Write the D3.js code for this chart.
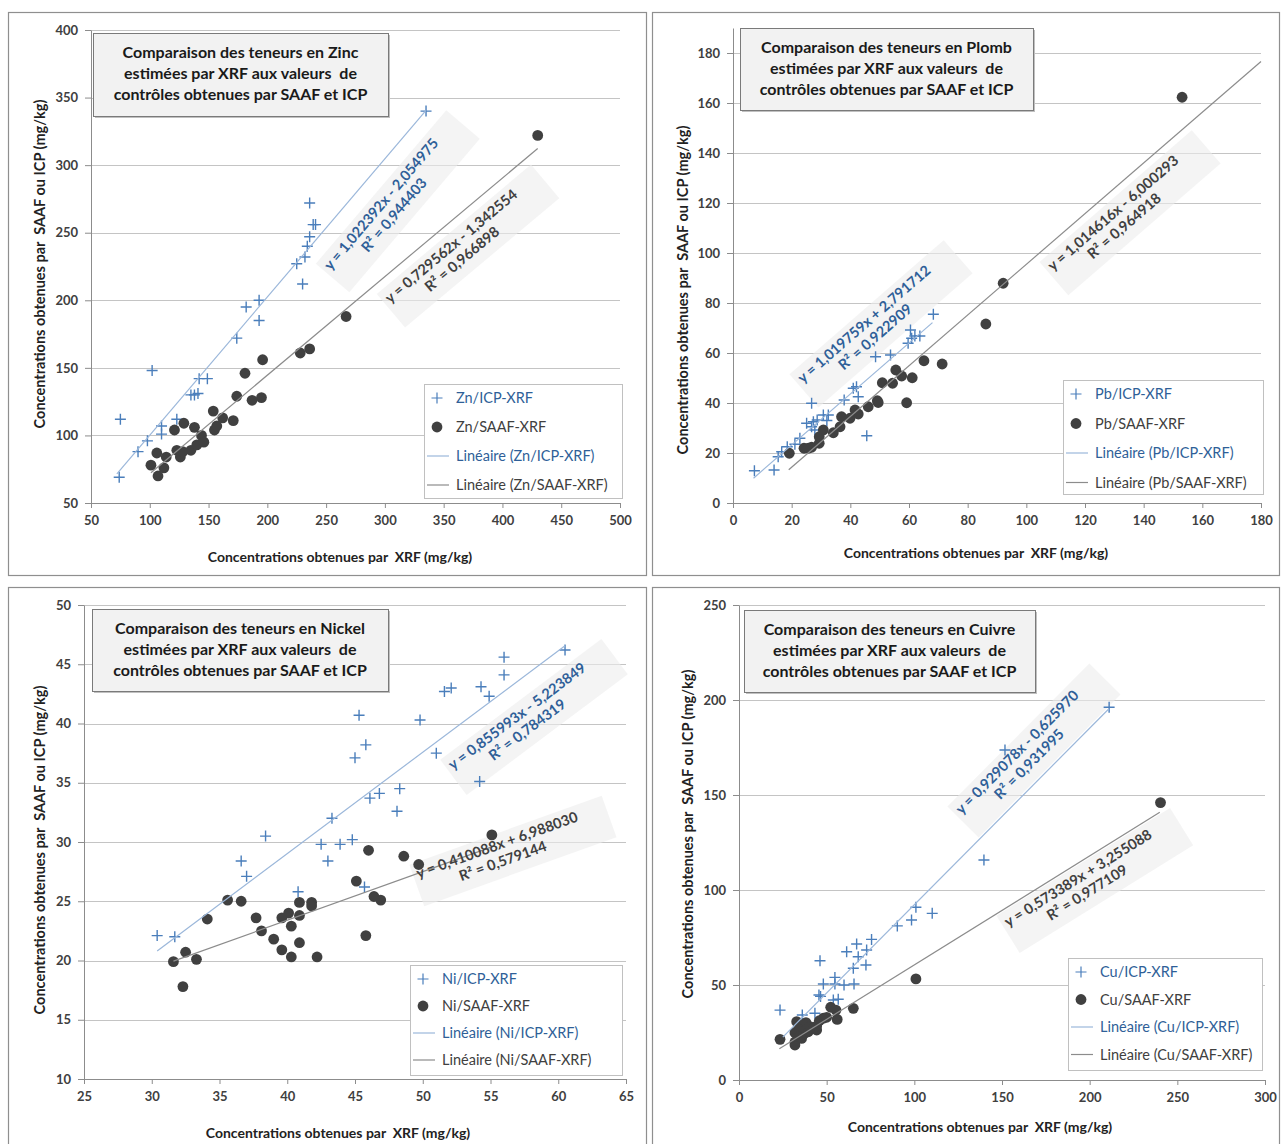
<!DOCTYPE html>
<html><head><meta charset="utf-8">
<script src="https://cdn.jsdelivr.net/npm/d3@7"></script>
<style>
body{margin:0;background:#fff}
text{font-family:Lato,"Open Sans",sans-serif;white-space:pre}
</style>
</head><body>
<svg id="c" width="1281" height="1144"></svg>
<script>
// ---------------- DATA ----------------
const znICP = [[74,69],[75,112],[90,88],[98,96],[102,148],[110,107],[110,101],[123,112],[135,130],[138,130],[141,131],[142,142],[149,142],[174,172],[182,195],[193,200],[193,185],[225,227],[230,212],[232,232],[234,240],[236,247],[236,272],[239,256],[241,256],[335,340]];
const znSAAF = [[101,78],[106,87],[107,70],[112,76],[114,84],[121,104],[123,89],[126,84],[128,88],[129,109],[135,89],[138,106],[140,93],[144,100],[146,95],[154,118],[155,104],[157,107],[162,113],[171,111],[174,129],[181,146],[187,126],[195,128],[196,156],[228,161],[236,164],[267,188],[430,322]];
const pbICP = [[7.3,12.9],[14,13.2],[15.4,18.5],[16.6,20.5],[18.5,22.5],[21.1,23.5],[22.8,25.9],[25.1,31.9],[26.8,39.9],[26.8,30.5],[27.4,32.5],[27.9,29.2],[28.7,33.2],[30.8,35.2],[32,33],[32.5,35.2],[37.9,41.2],[41,45.9],[42.1,46.5],[42.7,42.5],[45.6,26.9],[48.6,58.5],[53.7,59.2],[59.7,63.9],[60.5,69.2],[60.9,65.9],[62,66.8],[63.7,66.8],[68.3,75.5]];
const pbSAAF = [[19.2,19.9],[24.2,21.9],[25.7,21.9],[26.8,22.3],[29.4,23.9],[29.4,26.5],[30.8,29.2],[34.2,28.1],[36.5,30.5],[37,34.5],[39.9,33.9],[41.6,37.2],[42.7,35.6],[46.1,38.5],[49.2,40.9],[49.5,40.2],[50.9,48.1],[54.4,47.9],[55.5,53.2],[57.5,50.8],[59.2,40.1],[61.1,50.1],[65.1,56.9],[71.3,55.6],[86.2,71.6],[92.1,87.9],[153.1,162.3]];
const niICP = [[30.4,22.1],[31.7,22.0],[36.6,28.4],[37.0,27.1],[38.4,30.5],[40.8,25.8],[42.5,29.8],[43.3,32.0],[43.0,28.4],[43.9,29.8],[44.8,30.2],[45.0,37.1],[45.3,40.7],[45.7,26.2],[45.8,38.2],[46.1,33.7],[46.8,34.1],[48.1,32.6],[48.3,34.5],[49.8,40.3],[51.0,37.5],[51.6,42.7],[52.1,43.0],[54.2,35.1],[54.3,43.1],[54.9,42.3],[56.0,45.6],[56.0,44.1],[60.5,46.2]];
const niSAAF = [[31.6,19.9],[32.3,17.8],[32.5,20.7],[33.3,20.1],[34.1,23.5],[35.6,25.1],[36.6,25.0],[37.7,23.6],[38.1,22.5],[39.0,21.8],[39.6,20.9],[39.6,23.6],[40.1,24.0],[40.3,22.9],[40.3,20.3],[40.9,24.9],[40.9,23.8],[40.9,21.5],[41.8,24.9],[41.8,24.6],[42.2,20.3],[45.1,26.7],[45.8,22.1],[46.0,29.3],[46.4,25.4],[46.9,25.1],[48.6,28.8],[49.7,28.1],[55.1,30.6]];
const cuICP = [[23.4,36.8],[36.1,34.2],[43.3,35.1],[45.6,44.7],[46.5,44],[46.2,62.8],[48.1,50.5],[53.8,42.1],[54.7,54],[54.7,50.5],[56.6,42.5],[59.9,50],[61.4,67.5],[65.2,58.8],[65.6,50.5],[67.1,71.6],[68,64.9],[72.4,60.5],[72.8,68.4],[75.6,74],[90.3,81.1],[98.4,84.2],[100.9,90.9],[110.2,87.7],[139.7,115.8],[151.7,173.7],[211.1,196.2]];
const cuSAAF = [[23.4,21.4],[31.9,24.9],[31.9,20],[31.9,18.4],[32.9,30.7],[33.5,26],[34.5,23],[35.7,28.1],[35.7,21.9],[37,24.3],[38.2,30.2],[38.5,26.5],[39.5,25.4],[40.5,28.1],[42,27],[44.3,26.3],[44.3,28.4],[45.8,31.2],[48.1,32.5],[50,33],[52.3,38.3],[55.3,36.8],[56,31.9],[65.2,37.7],[100.9,53.2],[240.4,146]];

// regression coefficients [slope, intercept] and x-extent of trend lines
const znFits = [[1.022392,-2.054975],[0.729562,-1.342554]];
const pbFits = [[1.019759,2.791712],[1.014616,-6.000293]];
const niFits = [[0.855993,-5.223849],[0.410088,6.988030]];
const cuFits = [[0.929078,-0.625970],[0.573389,3.255088]];
const znFitRange = [[72,335],[101,430]];
const pbFitRange = [[7,68],[19,180]];
const niFitRange = [[30.4,60.5],[31.6,55.1]];
const cuFitRange = [[25,211],[23,240]];

// equation labels
const znEq = [["y = 1,022392x - 2,054975","R² = 0,944403"],["y = 0,729562x - 1,342554","R² = 0,966898"]];
const pbEq = [["y = 1,019759x + 2,791712","R² = 0,922909"],["y = 1,014616x - 6,000293","R² = 0,964918"]];
const niEq = [["y = 0,855993x - 5,223849","R² = 0,784319"],["y = 0,410088x + 6,988030","R² = 0,579144"]];
const cuEq = [["y = 0,929078x - 0,625970","R² = 0,931995"],["y = 0,573389x + 3,255088","R² = 0,977109"]];

// ticks
const znXTicks = [50,100,150,200,250,300,350,400,450,500];
const znYTicks = [50,100,150,200,250,300,350,400];
const pbXTicks = [0,20,40,60,80,100,120,140,160,180];
const pbYTicks = [0,20,40,60,80,100,120,140,160,180];
const niXTicks = [25,30,35,40,45,50,55,60,65];
const niYTicks = [10,15,20,25,30,35,40,45,50];
const cuXTicks = [0,50,100,150,200,250,300];
const cuYTicks = [0,50,100,150,200,250];

// titles / legends
const znTitle = ["Comparaison des teneurs en Zinc","estimées par XRF aux valeurs  de","contrôles obtenues par SAAF et ICP"];
const pbTitle = ["Comparaison des teneurs en Plomb","estimées par XRF aux valeurs  de","contrôles obtenues par SAAF et ICP"];
const niTitle = ["Comparaison des teneurs en Nickel","estimées par XRF aux valeurs  de","contrôles obtenues par SAAF et ICP"];
const cuTitle = ["Comparaison des teneurs en Cuivre","estimées par XRF aux valeurs  de","contrôles obtenues par SAAF et ICP"];
const znLegend = ["Zn/ICP-XRF","Zn/SAAF-XRF","Linéaire (Zn/ICP-XRF)","Linéaire (Zn/SAAF-XRF)"];
const pbLegend = ["Pb/ICP-XRF","Pb/SAAF-XRF","Linéaire (Pb/ICP-XRF)","Linéaire (Pb/SAAF-XRF)"];
const niLegend = ["Ni/ICP-XRF","Ni/SAAF-XRF","Linéaire (Ni/ICP-XRF)","Linéaire (Ni/SAAF-XRF)"];
const cuLegend = ["Cu/ICP-XRF","Cu/SAAF-XRF","Linéaire (Cu/ICP-XRF)","Linéaire (Cu/SAAF-XRF)"];
const xTitle = "Concentrations obtenues par  XRF (mg/kg)";
const yTitle = "Concentrations obtenues par  SAAF ou ICP (mg/kg)";

// ---------------- LAYOUT ----------------
const C = {icp:"#4a7ebb", icpLine:"#9bb7da", saaf:"#404040", saafLine:"#8c8c8c",
  icpText:"#2f5f98", saafText:"#404040", grid:"#c4c4c4", axis:"#8c8c8c", tick:"#404040"};

const panels = [
 {frame:[8,12,638,563], xD:[50,500], xR:[91,620], yD:[50,400], yR:[503,30],
  xT:znXTicks, yT:znYTicks, icp:znICP, saaf:znSAAF, fits:znFits, fr:znFitRange, eq:znEq,
  eqPos:[[381,204],[451,246]], title:znTitle, tbox:[93,33,295,83], legend:znLegend,
  lbox:[424,384,198,114], lstep:29, xTitlePos:[340,557], yTitlePos:[40,264]},
 {frame:[652,12,627,563], xD:[0,180], xR:[733,1261], yD:[0,190], yR:[503,28],
  xT:pbXTicks, yT:pbYTicks, icp:pbICP, saaf:pbSAAF, fits:pbFits, fr:pbFitRange, eq:pbEq,
  eqPos:[[864,324],[1113,213]], title:pbTitle, tbox:[740,28,293,82], legend:pbLegend,
  lbox:[1063,380,200,114], lstep:29.5, xTitlePos:[976,553], yTitlePos:[683,290]},
 {frame:[8,587,638,570], xD:[25,65], xR:[84,626], yD:[10,50], yR:[1079,605],
  xT:niXTicks, yT:niYTicks, icp:niICP, saaf:niSAAF, fits:niFits, fr:niFitRange, eq:niEq,
  eqPos:[[517,716],[497,845]], title:niTitle, tbox:[92,609,296,82], legend:niLegend,
  lbox:[410,965,212,110], lstep:27, xTitlePos:[338,1133], yTitlePos:[40,850]},
 {frame:[652,587,627,570], xD:[0,300], xR:[739,1265], yD:[0,250], yR:[1080,605],
  xT:cuXTicks, yT:cuYTicks, icp:cuICP, saaf:cuSAAF, fits:cuFits, fr:cuFitRange, eq:cuEq,
  eqPos:[[1017,752],[1078,878]], title:cuTitle, tbox:[744,610,291,82], legend:cuLegend,
  lbox:[1068,958,194,112], lstep:27.5, xTitlePos:[980,1127], yTitlePos:[688,834]}
];

const svg = d3.select("#c");
const plus = "M-5.5,0H5.5M0,-5.5V5.5";

function drawPanel(p){
  const g = svg.append("g");
  const [fx,fy,fw,fh] = p.frame;
  g.append("rect").attr("x",fx+0.5).attr("y",fy+0.5).attr("width",fw).attr("height",fh)
    .attr("fill","#fff").attr("stroke","#8f8f8f").attr("stroke-width",1.2);

  const x = d3.scaleLinear(p.xD, p.xR);
  const y = d3.scaleLinear(p.yD, p.yR);

  // grid
  g.append("g").selectAll("line").data(p.yT.slice(1)).join("line")
    .attr("x1",p.xR[0]).attr("x2",p.xR[1]).attr("y1",d=>Math.round(y(d))+0.5).attr("y2",d=>Math.round(y(d))+0.5)
    .attr("stroke",C.grid).attr("stroke-width",1);

  const ecol = [C.icpText, C.saafText];
  const labelGroups = p.fits.map((f,i)=>{
    const [a,b] = p.fr[i];
    const ang = Math.atan2(y(f[0]*b+f[1])-y(f[0]*a+f[1]), x(b)-x(a))*180/Math.PI;
    return {ang, pos:p.eqPos[i], txt:p.eq[i], col:ecol[i]};
  });
  const bgLayer = g.append("g");

  // axes
  const ya = g.append("g").attr("transform",`translate(${p.xR[0]},0)`)
    .call(d3.axisLeft(y).tickValues(p.yT).tickSize(6).tickSizeOuter(0).tickPadding(7));
  const xa = g.append("g").attr("transform",`translate(0,${p.yR[0]})`)
    .call(d3.axisBottom(x).tickValues(p.xT).tickSize(5).tickSizeOuter(0).tickPadding(8));
  [ya,xa].forEach(a=>{
    a.select(".domain").attr("stroke",C.axis);
    a.selectAll(".tick line").attr("stroke",C.axis);
    a.selectAll(".tick text").attr("fill",C.tick).style("font-size","13px").style("font-weight","bold")
      .style("font-family","Lato, sans-serif");
  });

  // points
  g.append("g").selectAll("path").data(p.icp).join("path")
    .attr("d",plus).attr("transform",d=>`translate(${x(d[0])},${y(d[1])})`)
    .attr("stroke",C.icp).attr("stroke-width",1.4).attr("fill","none");
  g.append("g").selectAll("circle").data(p.saaf).join("circle")
    .attr("cx",d=>x(d[0])).attr("cy",d=>y(d[1])).attr("r",5.4).attr("fill",C.saaf);

  // trend lines
  const tcol = [C.icpLine, C.saafLine];
  p.fits.forEach((f,i)=>{
    const [a,b] = p.fr[i];
    g.append("line").attr("x1",x(a)).attr("y1",y(f[0]*a+f[1])).attr("x2",x(b)).attr("y2",y(f[0]*b+f[1]))
      .attr("stroke",tcol[i]).attr("stroke-width",1.2);
  });

  // equation labels
  labelGroups.forEach(L=>{
    const bgG = bgLayer.append("g").attr("transform",`translate(${L.pos[0]},${L.pos[1]}) rotate(${L.ang})`);
    const lg = g.append("g").attr("transform",`translate(${L.pos[0]},${L.pos[1]}) rotate(${L.ang})`);
    const t1 = lg.append("text").attr("text-anchor","middle").attr("dy","0.35em").attr("fill",L.col)
      .style("font-size","14.5px").style("font-weight","bold").text(L.txt[0]);
    lg.append("text").attr("text-anchor","middle").attr("y",17).attr("dy","0.35em").attr("fill",L.col)
      .style("font-size","14.5px").style("font-weight","bold").text(L.txt[1]);
    const w = t1.node().getComputedTextLength();
    bgG.append("rect").attr("x",-w/2-4).attr("y",-11).attr("width",w+34).attr("height",44)
      .attr("fill","#ededed").attr("opacity",0.6);
  });

  // title box
  const [bx,by,bw,bh] = p.tbox;
  g.append("rect").attr("x",bx+2).attr("y",by+2).attr("width",bw).attr("height",bh).attr("fill","#c0c0c0");
  g.append("rect").attr("x",bx+0.5).attr("y",by+0.5).attr("width",bw).attr("height",bh)
    .attr("fill","#f2f2f2").attr("stroke","#7a7a7a").attr("stroke-width",1);
  g.append("g").selectAll("text").data(p.title).join("text")
    .attr("x",bx+bw/2).attr("y",(d,i)=>by+19+i*21).attr("dy","0.35em").attr("text-anchor","middle")
    .attr("fill","#1a1a1a").style("font-size","16px").style("font-weight","bold").text(d=>d);

  // legend
  const [lx,ly,lw,lh] = p.lbox;
  g.append("rect").attr("x",lx+0.5).attr("y",ly+0.5).attr("width",lw).attr("height",lh)
    .attr("fill","#fff").attr("stroke","#c0c0c0");
  const items = g.append("g").selectAll("g").data(p.legend).join("g")
    .attr("transform",(d,i)=>`translate(${lx+13},${ly+14+i*p.lstep})`);
  items.each(function(d,i){
    const s = d3.select(this);
    if(i===0) s.append("path").attr("d",plus)
      .attr("stroke",C.icp).attr("stroke-width",1.2).attr("fill","none");
    if(i===1) s.append("circle").attr("r",5.4).attr("fill",C.saaf);
    if(i>=2) s.append("line").attr("x1",-10).attr("x2",12).attr("stroke",i===2?C.icpLine:C.saafLine).attr("stroke-width",1.2);
    s.append("text").attr("x",19).attr("dy","0.35em")
      .attr("fill",(i%2===0)?C.icpText:C.saafText).style("font-size","14.5px").text(d);
  });

  // axis titles
  g.append("text").attr("x",p.xTitlePos[0]).attr("y",p.xTitlePos[1]).attr("text-anchor","middle").attr("dy","0.35em")
    .attr("fill","#222").style("font-size","14px").style("font-weight","bold").text(xTitle);
  g.append("text").attr("transform",`translate(${p.yTitlePos[0]},${p.yTitlePos[1]}) rotate(-90)`)
    .attr("text-anchor","middle").attr("dy","0.35em")
    .attr("fill","#222").style("font-size","14.5px").style("font-weight","bold").text(yTitle);
}
panels.forEach(drawPanel);
</script>
</body></html>
